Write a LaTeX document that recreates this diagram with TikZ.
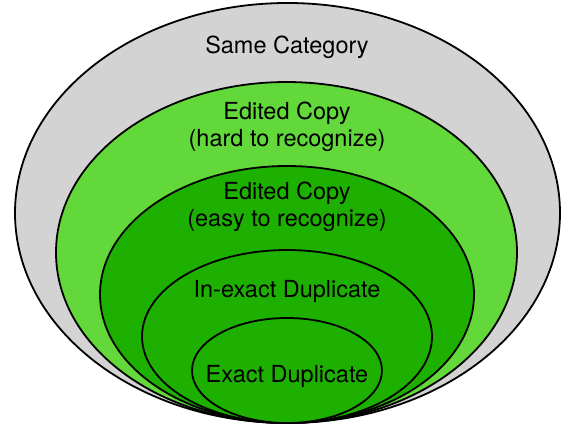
\documentclass[tikz,border=0pt]{standalone}
\usepackage{fontspec}
\setmainfont{TeX Gyre Heros}
\usetikzlibrary{shapes.geometric}
\usetikzlibrary{positioning}
\definecolor{catgray}{RGB}{211,211,211}
\definecolor{hardgreen}{RGB}{98,216,58}
\definecolor{easygreen}{RGB}{29,176,0}
\tikzset{
    ring/.style={
        ellipse, draw=black, line width=1.8pt,
        inner sep=0pt, outer sep=0pt
    },
    tag/.style={
        align=center, inner sep=0pt, text=black
    }
}

\begin{document}
\begin{tikzpicture}[
    x=1pt, y=-1pt,
    font=\fontsize{23.5}{27}\selectfont,
]
\useasboundingbox (0,0) rectangle (563,426);

% ===============================
%        nested rings
% ===============================

\node[ring, fill=catgray, minimum width=545pt, minimum height=420pt]
    (same) at (287.5,213) {};

\node[ring, fill=hardgreen, minimum width=461pt, minimum height=341pt]
    (hard) at (286.5,252.5) {};

\node[ring, fill=easygreen, minimum width=374pt, minimum height=257pt]
    (easy) at (287,294.5) {};

\node[ring, fill=easygreen, minimum width=290pt, minimum height=173pt]
    (inexact) at (287,336.5) {};

\node[ring, fill=easygreen, minimum width=190pt, minimum height=105pt]
    (exact) at (287,370.5) {};

% ===============================
%            labels
% ===============================

\node[tag] (sametxt) at (287,47) {Same Category};
\node[tag] (hardtxt) at (287,127) {Edited Copy\\(hard to recognize)};
\node[tag] (easytxt) at (287,207) {Edited Copy\\(easy to recognize)};
\node[tag] (inexacttxt) at (287,291) {In-exact Duplicate};
\node[tag] (exacttxt) at (287,376) {Exact Duplicate};

\end{tikzpicture}
\end{document}
